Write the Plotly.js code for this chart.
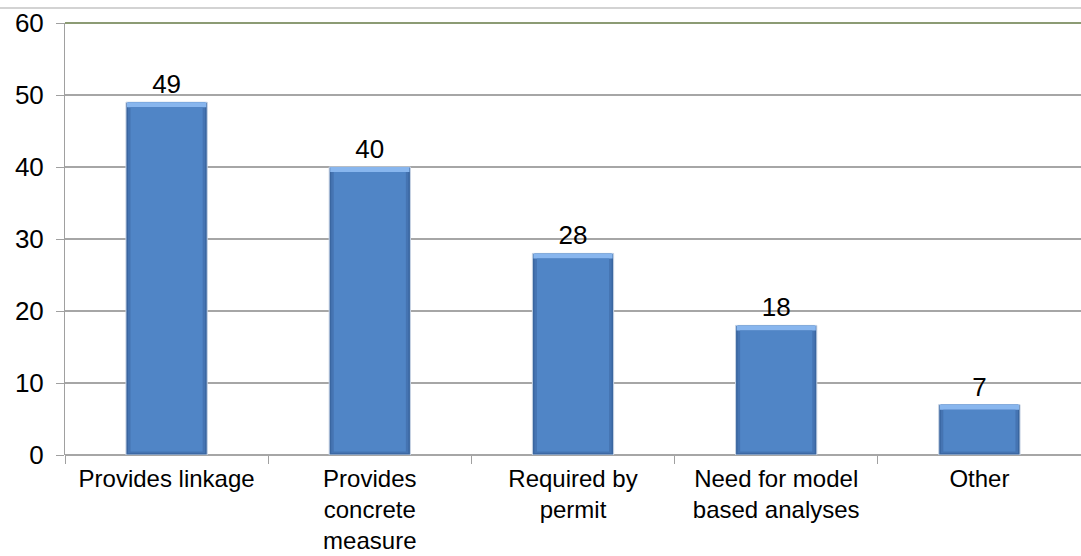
<!DOCTYPE html>
<html>
<head>
<meta charset="utf-8">
<script src="https://cdn.plot.ly/plotly-3.0.1.min.js"></script>
<style>
  html, body { margin: 0; padding: 0; background: #ffffff; }
  #chart { width: 1081px; height: 556px; }
</style>
</head>
<body>
<div id="chart"></div>
<script>
// Reasons given, with the number of responses for each
const categories = [
  'Provides linkage',
  'Provides<br>concrete<br>measure',
  'Required by<br>permit',
  'Need for model<br>based analyses',
  'Other'
];
const counts = [49, 40, 28, 18, 7];
const yTicks = [0, 10, 20, 30, 40, 50, 60];

// Bevel depths in data units for the raised-bar look
const topBevel = 0.7;
const bottomBevel = 0.5;

const font = 'Liberation Sans, Arial, sans-serif';
const fontSize = 26;
const categoryFontSize = 24;

// Dark outer body (outer side and bottom bevel); carries the value labels
const body = {
  type: 'bar', x: categories, y: counts, width: 0.4,
  marker: { color: '#3a66a0', line: { width: 1, color: '#c8d4e4' } },
  text: counts.map(String), textposition: 'outside',
  textfont: { family: font, size: fontSize, color: '#000000' },
  cliponaxis: false, hoverinfo: 'x+y'
};
// Inner side bevel, a step lighter
const sideInner = {
  type: 'bar', x: categories,
  y: counts.map(v => v - 0.25), base: counts.map(() => 0.25),
  width: 0.38, marker: { color: '#4574b2' }, hoverinfo: 'skip'
};
// Light top edge
const topEdge = {
  type: 'bar', x: categories,
  y: counts.map(() => topBevel), base: counts.map(v => v - topBevel),
  width: 0.39, marker: { color: '#88b6ee' }, hoverinfo: 'skip'
};
// Main face
const face = {
  type: 'bar', x: categories,
  y: counts.map(v => v - topBevel - bottomBevel), base: counts.map(() => bottomBevel),
  width: 0.355, marker: { color: '#5085c6' }, hoverinfo: 'skip'
};

const layout = {
  width: 1081, height: 556,
  margin: { l: 65, r: 0, t: 23, b: 101 },
  paper_bgcolor: '#ffffff', plot_bgcolor: '#ffffff',
  barmode: 'overlay', showlegend: false,
  font: { family: font, size: fontSize, color: '#000000' },
  xaxis: {
    type: 'category', tickson: 'boundaries',
    ticks: 'outside', ticklen: 8, tickcolor: '#a0a0a0', tickwidth: 1,
    ticklabelstandoff: 7,
    showgrid: false, showline: false, zeroline: false,
    tickfont: { family: font, size: categoryFontSize, color: '#000000' },
    fixedrange: true
  },
  yaxis: {
    range: [0, 60], tickvals: yTicks, ticktext: yTicks.map(String),
    ticks: 'outside', ticklen: 8, tickcolor: '#a0a0a0', tickwidth: 1,
    ticklabelstandoff: 7,
    showgrid: true, gridcolor: '#a6a6a6', gridwidth: 1.5,
    showline: true, linecolor: '#a0a0a0', linewidth: 1,
    zeroline: true, zerolinecolor: '#a6a6a6', zerolinewidth: 1.5,
    tickfont: { family: font, size: fontSize, color: '#000000' },
    fixedrange: true
  },
  shapes: [
    // olive top border of the plot area
    { type: 'line', xref: 'paper', yref: 'paper', x0: 0, x1: 1, y0: 1, y1: 1,
      line: { color: '#8c9b74', width: 2 } },
    // thin frame line above the chart
    { type: 'line', xref: 'paper', yref: 'paper', x0: -0.07, x1: 1.01,
      y0: 447 / 432, y1: 447 / 432, line: { color: '#c4c4c4', width: 1.5 } }
  ]
};

Plotly.newPlot('chart', [body, sideInner, topEdge, face], layout, { displayModeBar: false, staticPlot: true });
</script>
</body>
</html>
